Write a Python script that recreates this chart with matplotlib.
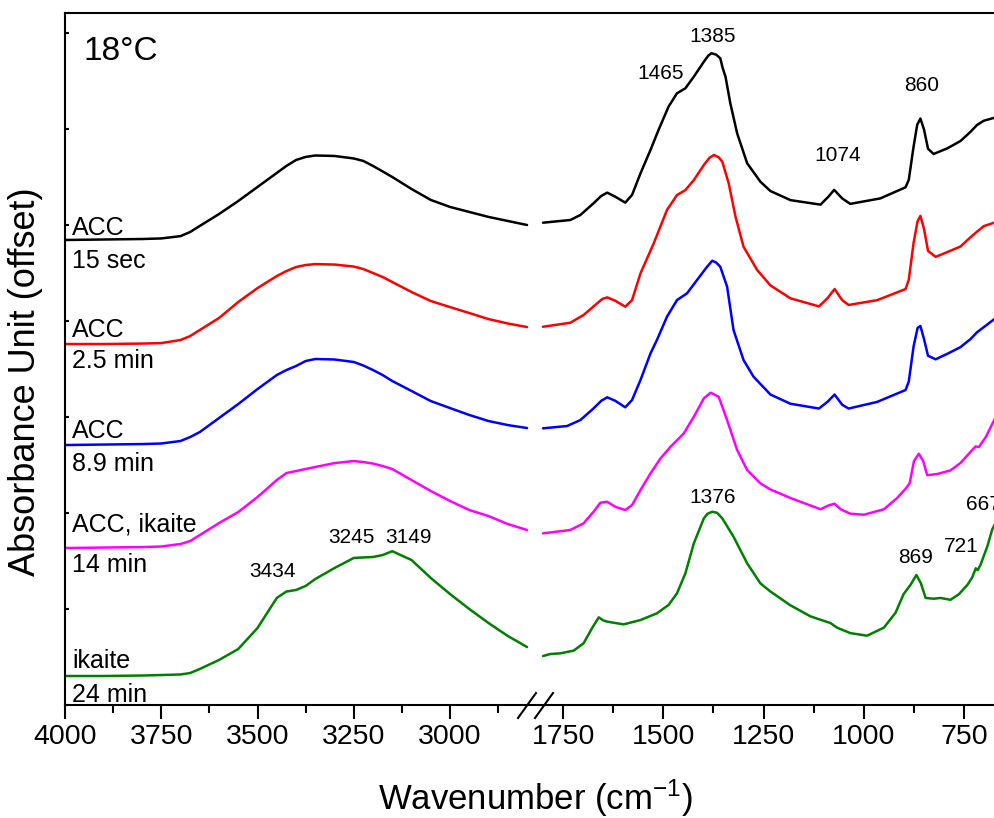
import numpy as np
import matplotlib
matplotlib.use("Agg")
import matplotlib.pyplot as plt
from matplotlib.ticker import FixedLocator, FixedFormatter, NullFormatter

plt.rcParams['font.family'] = ['Liberation Sans', 'DejaVu Sans']
plt.rcParams['mathtext.fontset'] = 'custom'
plt.rcParams['mathtext.rm'] = 'Liberation Sans'
plt.rcParams['mathtext.default'] = 'regular'

# ---------------- data ----------------
# O-H stretching region, shared wavenumber grid (cm-1)
wn_oh = [4000, 3900, 3800, 3750, 3700, 3675, 3650, 3600, 3550, 3500, 3450, 3425,
         3400, 3375, 3350, 3300, 3250, 3225, 3200, 3175, 3150, 3100, 3050, 3000,
         2950, 2900, 2850, 2800]
oh_15s = [0, 0.005, 0.01, 0.016, 0.04, 0.083, 0.146, 0.27, 0.406, 0.552, 0.698, 0.771,
          0.833, 0.865, 0.880, 0.875, 0.849, 0.823, 0.771, 0.714, 0.656, 0.531, 0.417, 0.344,
          0.292, 0.240, 0.198, 0.156]
oh_2p5 = [0, 0, 0.005, 0.01, 0.042, 0.083, 0.146, 0.271, 0.438, 0.583, 0.708, 0.760,
          0.802, 0.823, 0.833, 0.828, 0.807, 0.781, 0.740, 0.698, 0.646, 0.542, 0.448, 0.385,
          0.323, 0.260, 0.214, 0.177]
oh_8p9 = [0, 0.005, 0.01, 0.016, 0.042, 0.083, 0.135, 0.281, 0.427, 0.583, 0.729, 0.781,
          0.823, 0.875, 0.896, 0.891, 0.865, 0.828, 0.781, 0.729, 0.667, 0.563, 0.458, 0.385,
          0.313, 0.25, 0.208, 0.177]
oh_14 = [0, 0.005, 0.01, 0.016, 0.042, 0.073, 0.135, 0.260, 0.375, 0.531, 0.708, 0.781,
         0.802, 0.823, 0.844, 0.885, 0.906, 0.896, 0.880, 0.854, 0.823, 0.708, 0.594, 0.490,
         0.396, 0.333, 0.25, 0.188]
oh_24 = [0, 0, 0.005, 0.01, 0.016, 0.031, 0.073, 0.167, 0.281, 0.5, 0.813, 0.880,
         0.896, 0.938, 1.01, 1.125, 1.23, 1.235, 1.24, 1.26, 1.30, 1.208, 1.021, 0.854,
         0.698, 0.552, 0.417, 0.302]

# Carbonate / fingerprint region (cm-1), one grid per spectrum
wn_cb_15s = [1800, 1732, 1707, 1674, 1655, 1640, 1620, 1595, 1578, 1557,
             1532, 1512, 1487, 1466, 1445, 1424, 1399, 1388, 1380, 1368,
             1358, 1352, 1345, 1333, 1316, 1291, 1258, 1233, 1183, 1108,
             1088, 1074, 1054, 1034, 959, 896, 888, 876, 867, 859,
             850, 840, 826, 792, 759, 734, 718, 701, 673]
cb_15s = [0.18, 0.208, 0.26, 0.382, 0.458, 0.493, 0.451, 0.389, 0.469, 0.694,
          0.938, 1.146, 1.389, 1.528, 1.580, 1.701, 1.857, 1.92, 1.945, 1.93,
          1.892, 1.79, 1.701, 1.424, 1.111, 0.799, 0.607, 0.510, 0.415, 0.368,
          0.453, 0.522, 0.433, 0.376, 0.433, 0.549, 0.626, 0.973, 1.20, 1.265,
          1.15, 0.95, 0.896, 0.954, 1.031, 1.127, 1.197, 1.242, 1.275]

wn_cb_2p5 = [1800, 1732, 1699, 1665, 1652, 1640, 1620, 1595, 1578, 1557,
             1524, 1491, 1466, 1445, 1424, 1399, 1385, 1374, 1362, 1353,
             1337, 1320, 1300, 1266, 1233, 1183, 1112, 1091, 1073, 1054,
             1038, 967, 896, 888, 876, 866, 859, 850, 840, 821,
             792, 759, 734, 718, 701, 673]
cb_2p5 = [0.18, 0.222, 0.302, 0.424, 0.47, 0.486, 0.451, 0.389, 0.458, 0.736,
          1.049, 1.396, 1.552, 1.604, 1.708, 1.865, 1.94, 1.969, 1.945, 1.899,
          1.674, 1.326, 1.013, 0.771, 0.611, 0.476, 0.392, 0.476, 0.573, 0.457,
          0.407, 0.457, 0.573, 0.669, 1.054, 1.28, 1.335, 1.2, 0.97, 0.908,
          0.958, 1.016, 1.113, 1.17, 1.228, 1.267]

wn_cb_8p9 = [1800, 1740, 1707, 1674, 1655, 1640, 1620, 1595, 1578, 1557,
             1532, 1516, 1491, 1466, 1441, 1416, 1391, 1378, 1368, 1358,
             1341, 1325, 1300, 1275, 1233, 1183, 1112, 1091, 1073, 1054,
             1038, 967, 896, 888, 876, 866, 859, 850, 840, 821,
             792, 759, 734, 718, 701, 673]
cb_8p9 = [0.174, 0.198, 0.26, 0.382, 0.46, 0.497, 0.461, 0.393, 0.469, 0.677,
          0.955, 1.094, 1.336, 1.51, 1.58, 1.719, 1.857, 1.92, 1.90, 1.857,
          1.649, 1.198, 0.885, 0.711, 0.526, 0.43, 0.38, 0.449, 0.526, 0.419,
          0.38, 0.449, 0.573, 0.661, 1.027, 1.22, 1.24, 1.104, 0.93, 0.893,
          0.95, 1.02, 1.104, 1.174, 1.228, 1.317]

wn_cb_14 = [1800, 1732, 1699, 1674, 1657, 1640, 1620, 1595, 1578, 1557,
            1532, 1507, 1482, 1449, 1424, 1399, 1382, 1362, 1341, 1316,
            1291, 1258, 1233, 1183, 1108, 1088, 1073, 1058, 1034, 1000,
            950, 917, 896, 886, 875, 863, 852, 842, 817, 784,
            759, 734, 721, 713, 696, 673]
cb_14 = [0.153, 0.188, 0.257, 0.378, 0.472, 0.482, 0.43, 0.396, 0.448, 0.604,
         0.778, 0.934, 1.055, 1.194, 1.368, 1.559, 1.618, 1.576, 1.333, 1.021,
         0.813, 0.674, 0.61, 0.521, 0.404, 0.444, 0.462, 0.404, 0.358, 0.347,
         0.404, 0.521, 0.617, 0.674, 0.906, 0.982, 0.906, 0.759, 0.771, 0.809,
         0.886, 1.002, 1.059, 1.052, 1.156, 1.35]

wn_cb_24 = [1800, 1782, 1757, 1724, 1699, 1678, 1661, 1650, 1640, 1599,
            1557, 1516, 1487, 1466, 1445, 1424, 1399, 1390, 1378, 1366,
            1353, 1325, 1291, 1258, 1233, 1183, 1133, 1083, 1067, 1034,
            992, 950, 921, 901, 884, 869, 858, 846, 826, 809,
            784, 763, 742, 730, 721, 716, 709, 692, 680, 673]
cb_24 = [0.208, 0.229, 0.236, 0.264, 0.34, 0.497, 0.611, 0.58, 0.566, 0.538,
         0.583, 0.653, 0.74, 0.861, 1.07, 1.382, 1.642, 1.69, 1.711, 1.70,
         1.642, 1.451, 1.174, 0.965, 0.88, 0.736, 0.621, 0.551, 0.504, 0.447,
         0.42, 0.504, 0.659, 0.852, 0.948, 1.052, 0.968, 0.813, 0.805, 0.813,
         0.794, 0.852, 0.948, 1.025, 1.122, 1.102, 1.16, 1.352, 1.526, 1.583]

# vertical offsets of the stacked spectra
offsets = [4.844, 3.760, 2.708, 1.635, 0.302]
colors = ['#000000', '#ff0000', '#0000ff', '#ff00ff', '#008000']
sample_names = ['ACC', 'ACC', 'ACC', 'ACC, ikaite', 'ikaite']
sample_times = ['15 sec', '2.5 min', '8.9 min', '14 min', '24 min']

xticks_major = [4000, 3750, 3500, 3250, 3000, 1750, 1500, 1250, 1000, 750]
xticks_minor = [3875, 3625, 3375, 3125, 2875, 1625, 1375, 1125, 875]


# ---------------- broken wavenumber axis ----------------
def _to_px(w):
    w = np.asarray(w, dtype=float)
    return np.where(w >= 2800, (4000 - w) * 0.385,
                    np.where(w >= 1800, 462 + (2800 - w) * 0.016,
                             478 + (1800 - w) * 0.401))


def forward(w):
    return -_to_px(w)


def inverse(v):
    u = -np.asarray(v, dtype=float)
    return np.where(u <= 462, 4000 - u / 0.385,
                    np.where(u <= 478, 2800 - (u - 462) / 0.016,
                             1800 - (u - 478) / 0.401))


fig = plt.figure(figsize=(9.95, 8.18), dpi=100)
ax = fig.add_axes([65 / 995, 1 - 705 / 818, 930 / 995, 692 / 818])
ax.set_xscale('function', functions=(forward, inverse))
ax.set_xlim(4000, 673)
ax.set_ylim(0, 692 / 96)

hi = [oh_15s, oh_2p5, oh_8p9, oh_14, oh_24]
lo_wn = [wn_cb_15s, wn_cb_2p5, wn_cb_8p9, wn_cb_14, wn_cb_24]
lo = [cb_15s, cb_2p5, cb_8p9, cb_14, cb_24]
for off, c, a_hi, w_lo, a_lo in zip(offsets, colors, hi, lo_wn, lo):
    ax.plot(wn_oh, off + np.asarray(a_hi), color=c, lw=1.8,
            solid_joinstyle='round', solid_capstyle='round')
    ax.plot(w_lo, off + np.asarray(a_lo), color=c, lw=1.8,
            solid_joinstyle='round', solid_capstyle='round')

# sample labels
name_dy = [0.052, 0.073, 0.073, 0.177, 0.083]
time_dy = [-0.292, -0.25, -0.271, -0.25, -0.271]
for off, name, t, dn, dt in zip(offsets, sample_names, sample_times, name_dy, time_dy):
    ax.text(3982, off + dn, name, fontsize=18, ha='left', va='baseline')
    ax.text(3982, off + dt, t, fontsize=18, ha='left', va='baseline')

# band positions
peak_text = [('1465', 1507, 6.52), ('1385', 1376, 6.906), ('1074', 1066, 5.667),
             ('860', 857, 6.396), ('3434', 3460, 1.333), ('3245', 3255, 1.6875),
             ('3149', 3109, 1.6875), ('1376', 1378, 2.104), ('869', 871, 1.479),
             ('721', 756, 1.594)]
for s, x, y in peak_text:
    ax.text(x, y, s, fontsize=15, ha='center', va='baseline')
ax.text(746, 2.03, '667', fontsize=15, ha='left', va='baseline', clip_on=False)

ax.text(3953, 6.72, '18\u00b0C', fontsize=24, ha='left', va='baseline')

# axes styling
for side in ['left', 'top', 'bottom']:
    ax.spines[side].set_linewidth(1.5)
ax.spines['right'].set_visible(False)

ax.xaxis.set_major_locator(FixedLocator(xticks_major))
ax.xaxis.set_major_formatter(FixedFormatter([str(v) for v in xticks_major]))
ax.xaxis.set_minor_locator(FixedLocator(xticks_minor))
ax.xaxis.set_minor_formatter(NullFormatter())
ax.tick_params(axis='x', which='major', direction='out', length=10, width=1.5,
               labelsize=20.5, pad=4)
ax.tick_params(axis='x', which='minor', direction='out', length=6, width=1.5)
ax.yaxis.set_major_locator(FixedLocator(list(range(8))))
ax.yaxis.set_major_formatter(NullFormatter())
ax.tick_params(axis='y', which='major', direction='in', length=3, width=1.5)
ax.tick_params(top=False, right=False)

# break marks on the wavenumber axis
for x0 in (0.4871, 0.5054):
    ax.plot([x0, x0 + 0.0193], [-0.0188, 0.0173], transform=ax.transAxes,
            color='black', lw=1.5, clip_on=False)

fig.text(535 / 995, 1 - 810 / 818, 'Wavenumber (cm$^{-1}$)', fontsize=25,
         ha='center', va='baseline')
fig.text(25.5 / 995, 1 - 382 / 818, 'Absorbance Unit (offset)', fontsize=26,
         rotation=90, ha='center', va='center')

fig.savefig('out.png', dpi=100)
